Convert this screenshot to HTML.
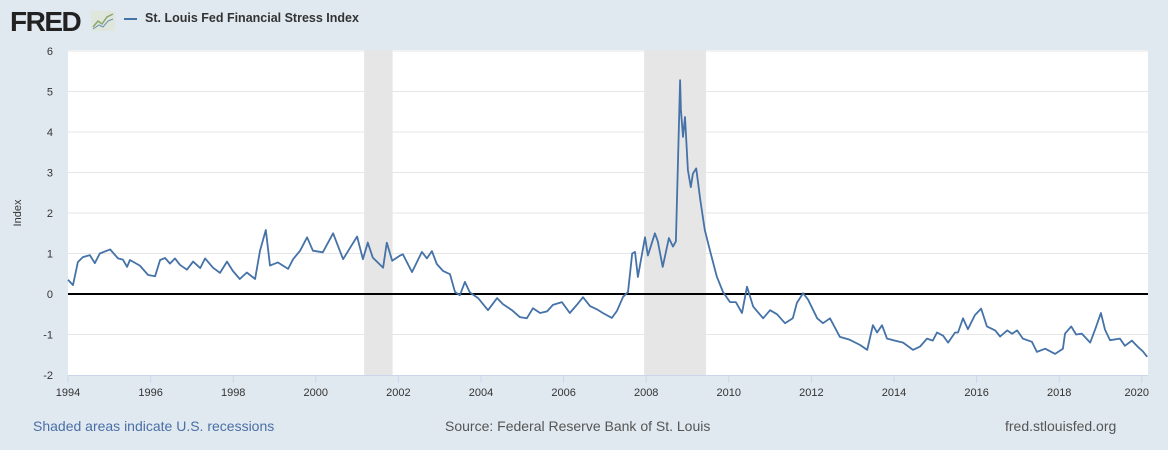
<!DOCTYPE html>
<html><head><meta charset="utf-8"><style>
body{margin:0;width:1168px;height:450px;background:#e1e9f0;font-family:"Liberation Sans",sans-serif;overflow:hidden;position:relative}
.t{position:absolute;white-space:nowrap}
</style></head><body>
<div class="t" style="left:10px;top:6px;font-size:28px;font-weight:bold;color:#222;letter-spacing:-1.5px">FRED</div>
<svg style="position:absolute;left:91px;top:11px" width="24" height="20"><rect width="24" height="20" fill="#dfe6dc"/><polyline points="2,16 7,10 11,13 16,6 22,3" fill="none" stroke="#8aa86a" stroke-width="1.5"/><polyline points="2,18 8,14 12,16 17,10 22,8" fill="none" stroke="#6a8fb5" stroke-width="1"/></svg>
<div style="position:absolute;left:124px;top:18px;width:13px;height:2px;background:#4572a7"></div>
<div class="t" style="left:145px;top:11px;font-size:12.5px;font-weight:bold;color:#333">St. Louis Fed Financial Stress Index</div>
<svg id="chart" style="position:absolute;left:0;top:0" width="1168" height="450"></svg>
<div class="t" style="left:33px;top:418px;font-size:14px;color:#4a6fa5">Shaded areas indicate U.S. recessions</div>
<div class="t" style="left:445px;top:418px;font-size:14px;color:#555">Source: Federal Reserve Bank of St. Louis</div>
<div class="t" style="left:1005px;top:418px;font-size:14px;color:#555">fred.stlouisfed.org</div>
<script>
const yTicks=[-2,-1,0,1,2,3,4,5,6];
const xTicks=[1994,1996,1998,2000,2002,2004,2006,2008,2010,2012,2014,2016,2018,2020];
const recessions=[[2001.17,2001.86],[2007.95,2009.45]];
const dates=[1994.0,1994.12,1994.24,1994.36,1994.53,1994.65,1994.77,1995.02,1995.21,1995.33,1995.43,1995.5,1995.74,1995.94,1996.11,1996.23,1996.35,1996.47,1996.59,1996.71,1996.88,1997.03,1997.2,1997.32,1997.51,1997.68,1997.85,1997.99,1998.16,1998.33,1998.53,1998.65,1998.79,1998.89,1999.08,1999.33,1999.45,1999.62,1999.79,1999.93,2000.17,2000.42,2000.66,2000.83,2001.0,2001.14,2001.26,2001.38,2001.63,2001.72,2001.85,2002.04,2002.11,2002.33,2002.57,2002.69,2002.81,2002.93,2003.08,2003.25,2003.37,2003.49,2003.61,2003.73,2003.93,2004.17,2004.39,2004.53,2004.75,2004.94,2005.11,2005.26,2005.43,2005.6,2005.74,2005.96,2006.15,2006.32,2006.47,2006.64,2006.81,2006.95,2007.17,2007.29,2007.44,2007.56,2007.66,2007.73,2007.8,2007.97,2008.04,2008.21,2008.28,2008.4,2008.55,2008.65,2008.72,2008.82,2008.84,2008.89,2008.94,2009.01,2009.08,2009.13,2009.21,2009.31,2009.42,2009.54,2009.71,2009.86,2010.03,2010.17,2010.32,2010.44,2010.59,2010.83,2011.0,2011.17,2011.36,2011.55,2011.65,2011.8,2011.92,2012.14,2012.28,2012.45,2012.69,2012.93,2013.18,2013.35,2013.49,2013.59,2013.71,2013.83,2014.02,2014.22,2014.46,2014.63,2014.8,2014.94,2015.04,2015.19,2015.31,2015.48,2015.55,2015.67,2015.79,2015.96,2016.11,2016.25,2016.45,2016.57,2016.74,2016.86,2016.98,2017.12,2017.34,2017.46,2017.66,2017.9,2018.09,2018.14,2018.29,2018.41,2018.55,2018.75,2018.87,2019.01,2019.11,2019.23,2019.47,2019.59,2019.76,2019.88,2020.03,2020.13];
const values=[0.35,0.22,0.79,0.91,0.96,0.76,1.0,1.1,0.88,0.85,0.67,0.84,0.7,0.47,0.44,0.84,0.89,0.75,0.88,0.72,0.6,0.8,0.64,0.88,0.65,0.52,0.8,0.57,0.37,0.53,0.37,1.07,1.58,0.7,0.78,0.62,0.86,1.07,1.4,1.07,1.03,1.5,0.86,1.14,1.42,0.86,1.27,0.9,0.65,1.27,0.82,0.95,0.98,0.54,1.04,0.88,1.06,0.74,0.57,0.49,0.05,-0.03,0.3,0.04,-0.1,-0.4,-0.1,-0.25,-0.4,-0.57,-0.6,-0.35,-0.47,-0.43,-0.27,-0.2,-0.47,-0.27,-0.08,-0.3,-0.38,-0.47,-0.59,-0.42,-0.07,0.05,1.0,1.04,0.42,1.4,0.95,1.5,1.3,0.67,1.38,1.17,1.3,5.28,4.55,3.88,4.37,3.06,2.64,2.97,3.1,2.32,1.58,1.09,0.43,0.05,-0.2,-0.2,-0.47,0.18,-0.31,-0.6,-0.4,-0.5,-0.72,-0.6,-0.22,0.02,-0.14,-0.6,-0.72,-0.6,-1.06,-1.13,-1.26,-1.38,-0.77,-0.95,-0.77,-1.1,-1.15,-1.2,-1.38,-1.3,-1.1,-1.15,-0.95,-1.03,-1.2,-0.95,-0.95,-0.6,-0.87,-0.52,-0.36,-0.8,-0.9,-1.05,-0.9,-0.98,-0.9,-1.1,-1.18,-1.43,-1.35,-1.48,-1.35,-0.98,-0.8,-1.0,-0.98,-1.2,-0.88,-0.47,-0.88,-1.14,-1.1,-1.28,-1.15,-1.28,-1.42,-1.55];
const L=68,R=1148,T=50,B=375;
const xs=y=>L+(y-1994)*41.3;
const ys=v=>294-v*40.5;
const svg=document.getElementById('chart');
const NS='http://www.w3.org/2000/svg';
function mk(tag,attrs){const e=document.createElementNS(NS,tag);for(const k in attrs)e.setAttribute(k,attrs[k]);svg.appendChild(e);return e;}
let bg=mk('rect',{x:L,y:T,width:R-L,height:B-T,fill:'#fff'});


recessions.forEach(r=>{const e=mk('rect',{x:xs(r[0]),y:T,width:xs(r[1])-xs(r[0]),height:B-T,fill:'#e6e6e6'});

});
yTicks.forEach(v=>{
 if(v!==0&&v!==-2){const g=mk('line',{x1:L,x2:R,y1:ys(v),y2:ys(v),stroke:'#e6e6e6','stroke-width':1});
 
 }
 const t=mk('text',{x:53,y:ys(v)+4,'text-anchor':'end','font-size':11,fill:'#333','font-family':'Liberation Sans, sans-serif'});
 t.textContent=v;
 
 
});
let ax=mk('line',{x1:L,x2:R,y1:B+0.5,y2:B+0.5,stroke:'#ccd6eb','stroke-width':1});


xTicks.forEach((y,i)=>{
 const tk=mk('line',{x1:xs(y),x2:xs(y),y1:B,y2:B+8,stroke:'#ccd6eb'});
 
 
 const last=i===xTicks.length-1;
 const t=mk('text',{x:last?1149:xs(y),y:396,'text-anchor':last?'end':'middle','font-size':11,fill:'#333','font-family':'Liberation Sans, sans-serif'});
 t.textContent=y;
 
 
});
let yt=mk('text',{x:21,y:213,'text-anchor':'middle','font-size':11,fill:'#333',transform:'rotate(-90 21 213)','font-family':'Liberation Sans, sans-serif'});
yt.textContent='Index';


let zl=mk('line',{x1:L,x2:R,y1:ys(0),y2:ys(0),stroke:'#000','stroke-width':2});


let pl=mk('polyline',{points:dates.map((d,i)=>xs(d).toFixed(1)+','+ys(values[i]).toFixed(1)).join(' '),fill:'none',stroke:'#4572a7','stroke-width':1.8,'stroke-linejoin':'round'});


</script>
</body></html>
